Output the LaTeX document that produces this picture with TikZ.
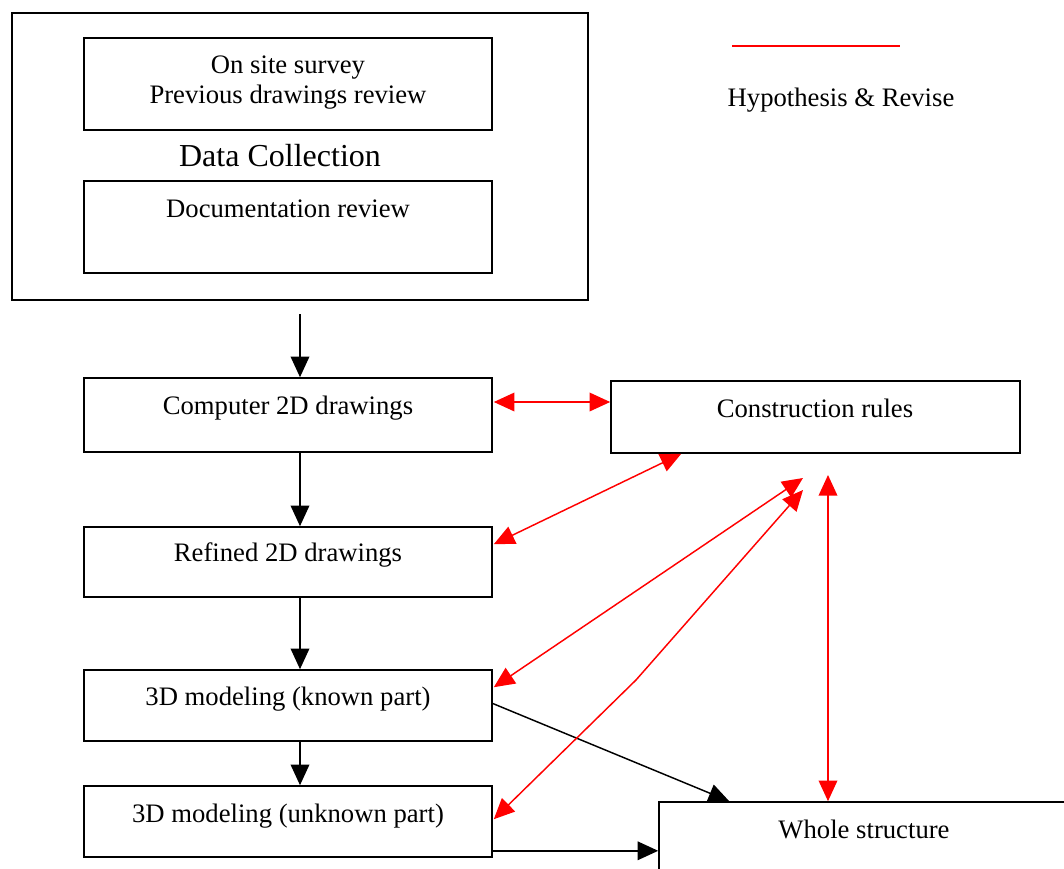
\documentclass[tikz,border=0pt]{standalone}
\usepackage{fontspec}
\setmainfont{Liberation Serif}
\usetikzlibrary{arrows.meta,fit,calc}
\begin{document}
\begin{tikzpicture}[x=0.75pt,y=-0.75pt,
  box/.style={draw=black,line width=1.2pt,inner sep=0pt},
  txt/.style={anchor=base,inner sep=0pt,font=\fontsize{20}{24}\selectfont},
  big/.style={anchor=base,inner sep=0pt,font=\fontsize{24}{28}\selectfont},
  flow/.style={draw=black,line width=1.1pt,-{Triangle[length=15.5pt,width=14pt]}},
  revise/.style={draw=red,line width=1.1pt,{Triangle[length=15.5pt,width=14pt]}-{Triangle[length=15.5pt,width=14pt]}}]
\useasboundingbox (0,0) rectangle (1064,868);
\clip (0,0) rectangle (1064,868);

% data collection group
\node[box,fit={(12,13) (588,300)}] (data) {};
\node[box,fit={(84,38) (492,130)}] (survey) {};
\node[txt] (surveyA) at (288,73) {On site survey};
\node[txt] (surveyB) at (288,103) {Previous drawings review};
\node[big] (datatitle) at (280,166) {Data Collection};
\node[box,fit={(84,181) (492,273)}] (docs) {};
\node[txt] (docstext) at (288,217) {Documentation review};

% process steps
\node[box,fit={(84,378) (492,452)}] (c2d) {};
\node[txt] (c2dtext) at (288,414) {Computer 2D drawings};
\node[box,fit={(611,381) (1020,453)}] (rules) {};
\node[txt] (rulestext) at (815,417) {Construction rules};
\node[box,fit={(84,527) (492,597)}] (refined) {};
\node[txt] (refinedtext) at (288,561) {Refined 2D drawings};
\node[box,fit={(84,670) (492,741)}] (known) {};
\node[txt] (knowntext) at (288,705) {3D modeling (known part)};
\node[box,fit={(84,786) (492,857)}] (unknown) {};
\node[txt] (unknowntext) at (288,822) {3D modeling (unknown part)};
\node[box,fit={(659,802) (1069,900)}] (whole) {};
\node[txt] (wholetext) at (864,838) {Whole structure};

% legend
\coordinate (legA) at (732,46);
\coordinate (legB) at (900,46);
\draw[red,line width=1.1pt] (legA) -- (legB);
\node[txt] (legtext) at (841,106) {Hypothesis \& Revise};

% free ends of the revision arrows
\coordinate (dataout) at (300,314);
\coordinate (r1) at (803,478);
\coordinate (r2) at (803,490);
\coordinate (r3) at (828,475);
\coordinate (bend) at (636,680);

% main flow
\draw[flow] (dataout) -- (c2d.north -| dataout);
\draw[flow] (c2d.south -| dataout) -- (refined.north -| dataout);
\draw[flow] (refined.south -| dataout) -- (known.north -| dataout);
\draw[flow] (known.south -| dataout) -- (unknown.north -| dataout);
\draw[flow] ($(known.east)+(0,-2)$) -- ($(whole.north west)+(71,0)$);
\draw[flow] ($(unknown.south east)+(0,-7)$) -- ($(whole.west |- unknown.south east)+(0,-7)$);

% hypothesis and revise loops
\draw[revise] ($(c2d.east)+(1,-13)$) -- ($(rules.west)+(0,-15)$);
\draw[revise] ($(refined.north east)+(1,18)$) -- ($(rules.south west)+(71,0)$);
\draw[revise] ($(known.north east)+(1,18)$) -- (r1);
\draw[revise] ($(unknown.north east)+(1,34)$) -- (bend) -- (r2);
\draw[revise] (r3) -- (r3 |- whole.north);
\end{tikzpicture}
\end{document}
